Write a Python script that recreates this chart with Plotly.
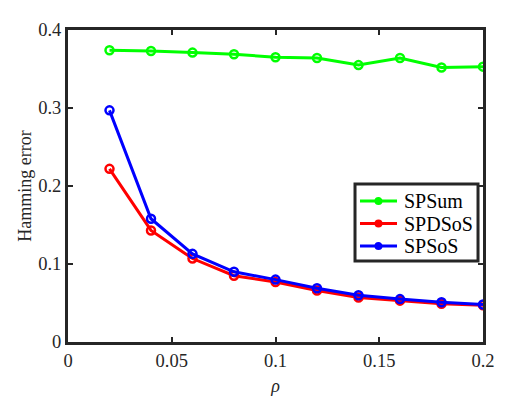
import plotly.graph_objects as go

rho = [0.02, 0.04, 0.06, 0.08, 0.10, 0.12, 0.14, 0.16, 0.18, 0.20]
spsum = [0.374, 0.373, 0.371, 0.369, 0.365, 0.364, 0.355, 0.364, 0.352, 0.353]
spdsos = [0.222, 0.143, 0.107, 0.085, 0.077, 0.066, 0.057, 0.053, 0.049, 0.047]
spsos = [0.297, 0.158, 0.113, 0.090, 0.080, 0.069, 0.060, 0.055, 0.051, 0.048]

names = ["SPSum", "SPDSoS", "SPSoS"]
colors = ["#00ff00", "#ff0000", "#0000ff"]
serif = "Liberation Serif, Times New Roman, serif"

fig = go.Figure()
for name, ys, c in zip(names, [spsum, spdsos, spsos], colors):
    fig.add_trace(go.Scatter(
        x=rho, y=ys, name=name, mode="lines+markers", showlegend=False,
        line=dict(color=c, width=3),
        marker=dict(symbol="circle-open", size=8, color=c, line=dict(color=c, width=2.5)),
    ))

# legend box drawn by hand (matlab style, tight rows)
fig.add_shape(type="rect", xref="paper", yref="paper",
              x0=0.6916, x1=0.988, y0=0.2596, y1=0.5064,
              line=dict(color="#262626", width=3), fillcolor="white", layer="above")
rows = [0.4519, 0.3798, 0.3077]
for name, c, ry in zip(names, colors, rows):
    fig.add_shape(type="line", xref="paper", yref="paper",
                  x0=0.7036, x1=0.7928, y0=ry, y1=ry,
                  line=dict(color=c, width=3), layer="above")
    fig.add_shape(type="circle", xref="paper", yref="paper",
                  x0=0.7482 - 0.0072, x1=0.7482 + 0.0072,
                  y0=ry - 0.0096, y1=ry + 0.0096,
                  line=dict(color=c, width=2), fillcolor=c, layer="above")
    fig.add_annotation(text=name, xref="paper", yref="paper", x=0.8048, y=ry,
                       xanchor="left", yanchor="middle", showarrow=False,
                       font=dict(family=serif, size=20, color="#000"))

axis_common = dict(
    showline=True, linecolor="#262626", linewidth=3, mirror="ticks",
    ticks="inside", ticklen=5, tickwidth=2, tickcolor="#262626",
    showgrid=False, zeroline=False, automargin=False,
    tickfont=dict(family=serif, size=18.5, color="#262626"),
)

# page body has an 8px margin, so the figure is 8px smaller and margins shifted
fig.update_layout(
    width=524, height=391,
    margin=dict(l=60, r=49, t=22, b=57),
    paper_bgcolor="white", plot_bgcolor="white",
    font=dict(family=serif, color="#262626"),
    xaxis=dict(range=[0, 0.2], tickvals=[0, 0.05, 0.1, 0.15, 0.2],
               ticktext=["0", "0.05", "0.1", "0.15", "0.2"],
               title=dict(text="<i>ρ</i>", font=dict(family=serif, size=18), standoff=10),
               **axis_common),
    yaxis=dict(range=[0, 0.4], tickvals=[0, 0.1, 0.2, 0.3, 0.4],
               ticktext=["0", "0.1", "0.2", "0.3", "0.4"],
               title=dict(text="Hamming error", font=dict(family=serif, size=18), standoff=2),
               **axis_common),
    showlegend=False,
)

fig.write_html("out.html")
